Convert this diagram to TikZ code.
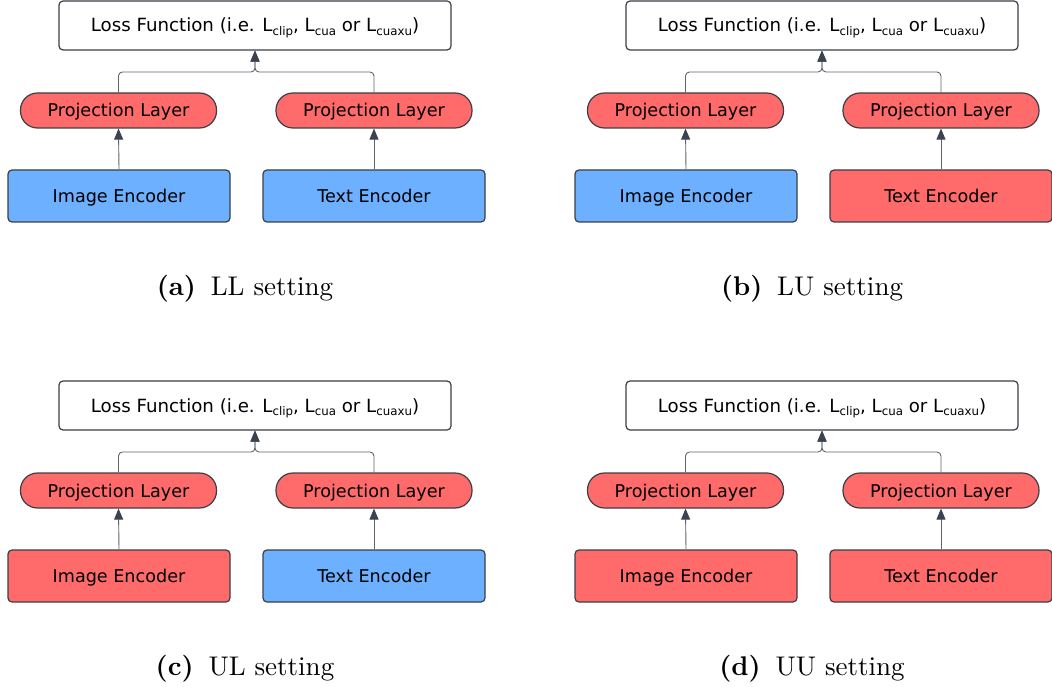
\documentclass[tikz,border=0pt]{standalone}
\usepackage{fontspec}
\newfontfamily\boxfont{DejaVu Sans}
\newfontfamily\capfont{lmroman10}[Extension=.otf, UprightFont=*-regular, BoldFont=*-bold]
\usetikzlibrary{arrows.meta,calc}
\definecolor{encblue}{HTML}{6CB0FF}
\definecolor{encred}{HTML}{FF6B6B}
\definecolor{edgegray}{HTML}{3A3F47}
\definecolor{linegray}{HTML}{5E646C}
\definecolor{tipgray}{HTML}{3B4250}
\tikzset{
  base/.style={draw=edgegray, line width=1.2pt, font=\boxfont\fontsize{17.6}{19}\selectfont, text=black, inner sep=0pt, text height=1.3em, text depth=0em},
  lossbox/.style={base, font=\boxfont\fontsize{18.2}{19}\selectfont, fill=white, rounded corners=4pt, minimum width=392pt, minimum height=49pt},
  projbox/.style={base, rounded corners=17pt, minimum width=196pt, minimum height=35pt},
  encbox/.style={base, rounded corners=4pt, minimum width=222pt, minimum height=52pt},
  conn/.style={draw=linegray, line width=0.9pt, -{Triangle[length=11pt,width=9pt,fill=tipgray,color=tipgray]}},
  merge/.style={conn, rounded corners=4pt},
  captext/.style={font=\capfont\fontsize{27}{30}\selectfont, anchor=base}
}
\newcommand\sub[1]{\raisebox{-0.35ex}{\fontsize{11.8}{12}\selectfont #1}}
\newcommand\onepanel[6]{%
\begin{scope}[shift={(#1,#2)}, name prefix=#3-]
  \node[lossbox] (loss) at (255,25.5) {Loss Function (i.e. L\sub{clip}, L\sub{cua} or L\sub{cuaxu})};
  \node[projbox, fill=encred] (pl) at (118.5,110.5) {Projection Layer};
  \node[projbox, fill=encred] (pr) at (374,110.5) {Projection Layer};
  \node[encbox, fill=#4] (el) at (119,196) {Image Encoder};
  \node[encbox, fill=#5] (er) at (374,196) {Text Encoder};
  \coordinate (j) at (255,72);
  \draw[merge] (pl.north) |- (j) -- (loss.south);
  \draw[merge] (pr.north) |- (j) -- (loss.south);
  \draw[conn] (el.north) -- (pl.south);
  \draw[conn] (er.north) -- (pr.south);
  \node[captext] (caption) at (245,295) {\textbf{(#6)}\hspace{0.55em}#3 setting};
\end{scope}}
\begin{document}
\begin{tikzpicture}[x=1pt,y=-1pt]
\useasboundingbox (0,0) rectangle (1052,687);
\onepanel{0}{0}{LL}{encblue}{encblue}{a}
\onepanel{567}{0}{LU}{encblue}{encred}{b}
\onepanel{0}{380}{UL}{encred}{encblue}{c}
\onepanel{567}{380}{UU}{encred}{encred}{d}
\end{tikzpicture}
\end{document}
